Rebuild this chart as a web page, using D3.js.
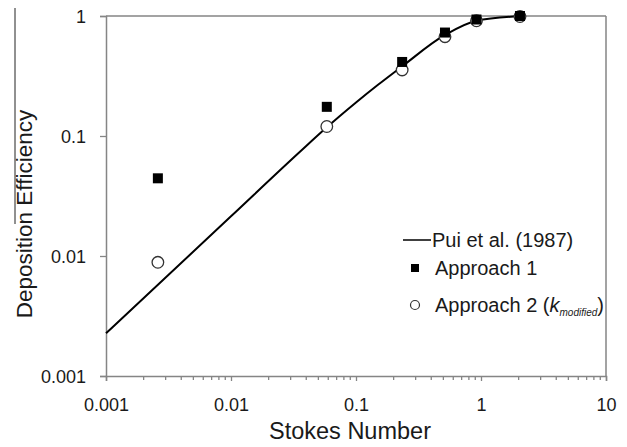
<!DOCTYPE html>
<html>
<head>
<meta charset="utf-8">
<script src="https://cdn.jsdelivr.net/npm/d3@7"></script>
<style>
  body { margin: 0; background: #fff; }
  svg { display: block; font-family: "Liberation Sans", Arial, sans-serif; }
</style>
</head>
<body>
<svg width="627" height="447"></svg>
<script>
// DATA
// Stokes numbers of the measured points
const stokes = [0.0026, 0.0584, 0.234, 0.515, 0.92, 2.05];
const approach1 = [0.0444, 0.175, 0.414, 0.728, 0.935, 1.0];
const approach2 = [0.00886, 0.12, 0.355, 0.672, 0.912, 0.99];

// Pui et al. (1987) curve
const puiStk = [0.001, 0.01, 0.0356, 0.0584, 0.1, 0.15, 0.232, 0.515, 0.92, 2.05];
const puiEff = [0.00227, 0.0214, 0.0738, 0.118, 0.19, 0.267, 0.378, 0.695, 0.913, 0.995];

const xTicks = [0.001, 0.01, 0.1, 1, 10];
const yTicks = [0.001, 0.01, 0.1, 1];
const xTickLabels = ["0.001", "0.01", "0.1", "1", "10"];
const yTickLabels = ["0.001", "0.01", "0.1", "1"];

// SETUP
const svg = d3.select("svg");
const margin = { top: 16, right: 21, bottom: 71, left: 106 };
const width = 627 - margin.left - margin.right,
  height = 447 - margin.top - margin.bottom;

const axisColor = "#858585";
const textColor = "#1a1a1a";

const g = svg.append("g").attr("transform", `translate(${margin.left},${margin.top})`);

const xScale = d3.scaleLog().domain([0.001, 10]).range([0, width]);
const yScale = d3.scaleLog().domain([0.001, 1]).range([height, 0]);

// frame: top and right borders
g.append("line").attr("x1", 0).attr("x2", width).attr("y1", 0).attr("y2", 0)
  .attr("stroke", axisColor).attr("stroke-width", 1.5);
g.append("line").attr("x1", width).attr("x2", width).attr("y1", 0).attr("y2", height)
  .attr("stroke", axisColor).attr("stroke-width", 1.5);

// minor ticks on x axis (2..9 of each decade)
const minor = [];
for (let d = 0.001; d < 10; d *= 10) {
  for (let k = 2; k <= 9; k++) minor.push(d * k);
}
g.selectAll(".minor").data(minor).enter().append("line")
  .attr("class", "minor")
  .attr("x1", (d) => xScale(d)).attr("x2", (d) => xScale(d))
  .attr("y1", height).attr("y2", height + 4)
  .attr("stroke", axisColor).attr("stroke-width", 1.3);

// x axis
const xAxis = d3.axisBottom(xScale)
  .tickValues(xTicks)
  .tickFormat((d, i) => xTickLabels[i])
  .tickSize(5).tickPadding(14);
const xg = g.append("g").attr("transform", `translate(0,${height})`).call(xAxis);

// y axis
const yAxis = d3.axisLeft(yScale)
  .tickValues(yTicks)
  .tickFormat((d, i) => yTickLabels[i])
  .tickSize(6).tickPadding(14);
const yg = g.append("g").call(yAxis);

[xg, yg].forEach((a) => {
  a.select(".domain").attr("stroke", axisColor).attr("stroke-width", 1.5);
  a.selectAll(".tick line").attr("stroke", axisColor).attr("stroke-width", 1.3);
  a.selectAll(".tick text")
    .attr("fill", textColor)
    .style("font-size", "18px")
    .style("font-family", '"Liberation Sans", Arial, sans-serif');
});
xg.selectAll(".tick text").attr("dy", "0.9em");
yg.selectAll(".tick text").attr("dy", "0.36em");

// axis titles
svg.append("text")
  .attr("x", 350).attr("y", 439)
  .attr("text-anchor", "middle")
  .attr("fill", textColor)
  .style("font-size", "23.5px")
  .text("Stokes Number");

svg.append("text")
  .attr("transform", "translate(32,214) rotate(-90)")
  .attr("text-anchor", "middle")
  .attr("fill", textColor)
  .style("font-size", "22.5px")
  .text("Deposition Efficiency");

// stray rule at the left edge of the figure
svg.append("line")
  .attr("x1", 15).attr("x2", 15).attr("y1", 8).attr("y2", 224)
  .attr("stroke", "#222").attr("stroke-width", 1);

// PLOT
const pui = puiStk.map((s, i) => [s, puiEff[i]]);
const line = d3.line()
  .x((d) => xScale(d[0]))
  .y((d) => yScale(d[1]))
  .curve(d3.curveMonotoneX);

g.append("path")
  .datum(pui)
  .attr("d", line)
  .attr("fill", "none")
  .attr("stroke", "#000")
  .attr("stroke-width", 2);

// approach 2: open circles
g.selectAll(".a2").data(stokes).enter().append("circle")
  .attr("class", "a2")
  .attr("cx", (d) => xScale(d))
  .attr("cy", (d, i) => yScale(approach2[i]))
  .attr("r", 5.8)
  .attr("fill", "#fff")
  .attr("stroke", "#333")
  .attr("stroke-width", 1.3);

// approach 1: filled squares
const sq = 10;
g.selectAll(".a1").data(stokes).enter().append("rect")
  .attr("class", "a1")
  .attr("x", (d) => xScale(d) - sq / 2)
  .attr("y", (d, i) => yScale(approach1[i]) - sq / 2)
  .attr("width", sq).attr("height", sq)
  .attr("fill", "#000");

// LEGEND
const legend = svg.append("g").style("font-size", "20px").attr("fill", textColor);

legend.append("line")
  .attr("x1", 403).attr("x2", 431).attr("y1", 240).attr("y2", 240)
  .attr("stroke", "#000").attr("stroke-width", 1.5);
legend.append("text").attr("x", 432).attr("y", 247).text("Pui et al. (1987)");

legend.append("rect")
  .attr("x", 411).attr("y", 264).attr("width", 8).attr("height", 8)
  .attr("fill", "#000");
legend.append("text").attr("x", 435).attr("y", 275).text("Approach 1");

legend.append("circle")
  .attr("cx", 415).attr("cy", 305).attr("r", 4.5)
  .attr("fill", "#fff").attr("stroke", "#333").attr("stroke-width", 1.2);
const t2 = legend.append("text").attr("x", 435).attr("y", 312);
t2.append("tspan").text("Approach 2 (");
t2.append("tspan").style("font-style", "italic").text("k");
t2.append("tspan").style("font-style", "italic").style("font-size", "10px")
  .attr("dy", 4).text("modified");
t2.append("tspan").attr("dy", -4).text(")");
</script>
</body>
</html>
